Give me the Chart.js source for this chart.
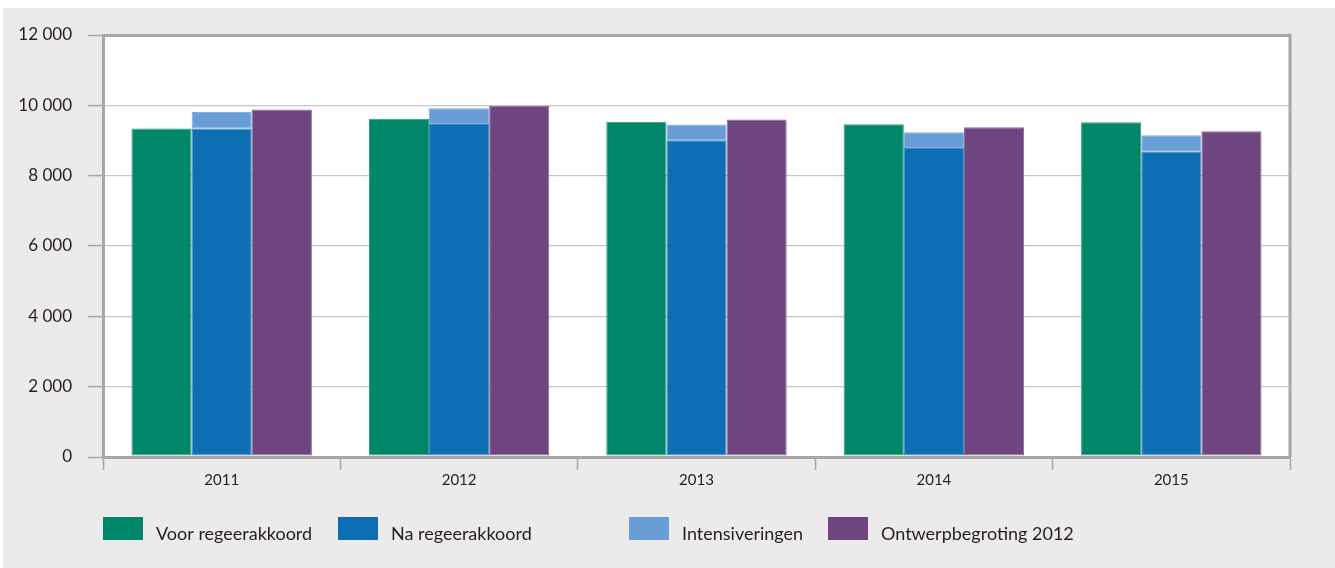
<!DOCTYPE html>
<html>
<head>
<meta charset="utf-8">
<script src="https://cdn.jsdelivr.net/npm/chart.js@4/dist/chart.umd.min.js"></script>
<style>
  html, body { margin: 0; padding: 0; background: #fff; }
  .panel { position: absolute; left: 3px; top: 8px; width: 1332px; height: 560px; background: #ECEAEB; }
  canvas { position: absolute; left: 0; top: 0; }
</style>
</head>
<body>
<div class="panel"></div>
<canvas id="myChart" width="1335" height="568"></canvas>
<script>
// data (bedragen x € mln)
const years = ["2011", "2012", "2013", "2014", "2015"];
const voorRegeerakkoord = [9340, 9620, 9530, 9460, 9520];
const naRegeerakkoord = [9340, 9470, 9010, 8790, 8680];
const intensiveringen = [470, 445, 445, 445, 470];
const ontwerpbegroting = [9880, 9990, 9600, 9380, 9260];
const yTicks = [0, 2000, 4000, 6000, 8000, 10000, 12000];

const textColor = "#231f20";
const axisGray = "#a7a7a7";

const formatNumber = (v) => String(v).replace(/\B(?=(\d{3})+(?!\d))/g, " ");

//white plot area + right border
const framePlugin = {
  id: "frame",
  beforeDraw(chart) {
    const { ctx, chartArea } = chart;
    ctx.save();
    ctx.fillStyle = "#ffffff";
    ctx.fillRect(chartArea.left, chartArea.top, chartArea.right - chartArea.left, chartArea.bottom - chartArea.top);
    ctx.restore();
  },
  afterDraw(chart) {
    const { ctx, chartArea } = chart;
    ctx.save();
    ctx.strokeStyle = axisGray;
    ctx.lineWidth = 3;
    ctx.beginPath();
    ctx.moveTo(chartArea.right, chartArea.top - 1.5);
    ctx.lineTo(chartArea.right, chartArea.bottom);
    ctx.stroke();
    ctx.restore();
  },
};

//legend in fixed columns like the original
const legendPlugin = {
  id: "colLegend",
  afterDraw(chart, args, opts) {
    const { ctx } = chart;
    ctx.save();
    ctx.font = opts.font;
    ctx.textBaseline = "alphabetic";
    ctx.textAlign = "left";
    chart.data.datasets.forEach((ds, i) => {
      const x = opts.columns[i];
      ctx.fillStyle = ds.backgroundColor;
      ctx.fillRect(x, opts.top, 40, 23);
      ctx.fillStyle = textColor;
      ctx.fillText(ds.label, x + 53, opts.top + 23);
    });
    ctx.restore();
  },
};

const myChart = new Chart(document.getElementById("myChart"), {
  type: "bar",
  data: {
    labels: years,
    datasets: [
      { label: "Voor regeerakkoord", data: voorRegeerakkoord, backgroundColor: "#00876A", borderColor: "#2f9a80", stack: "voor" },
      { label: "Na regeerakkoord", data: naRegeerakkoord, backgroundColor: "#0E6EB3", borderColor: "#3a88c0", stack: "na" },
      { label: "Intensiveringen", data: intensiveringen, backgroundColor: "#699DD6", borderColor: "#86b0de", stack: "na" },
      { label: "Ontwerpbegroting 2012", data: ontwerpbegroting, backgroundColor: "#6F4580", borderColor: "#8b6a99", stack: "ontwerp" },
    ].map((d) => ({ ...d, borderWidth: 1, borderSkipped: false })),
  },
  options: {
    responsive: false,
    devicePixelRatio: 1,
    animation: false,
    categoryPercentage: 0.76,
    barPercentage: 1,
    layout: { padding: { left: 0, top: 35, right: 45, bottom: 0 } },
    plugins: {
      legend: { display: false },
      tooltip: { enabled: false },
      colLegend: {
        font: "18px Lato, sans-serif",
        columns: [103, 338, 629, 828],
        top: 517,
      },
    },
    scales: {
      x: {
        stacked: true,
        afterFit: (scale) => { scale.height = 111; },
        border: { display: true, color: axisGray, width: 3 },
        grid: {
          offset: true,
          drawOnChartArea: false,
          drawTicks: true,
          tickLength: 13,
          tickColor: axisGray,
          tickWidth: 1.5,
        },
        ticks: {
          color: textColor,
          font: { family: "Lato, sans-serif", size: 15 },
          padding: 1,
        },
      },
      y: {
        stacked: true,
        min: 0,
        max: 12000,
        afterFit: (scale) => { scale.width = 103; },
        afterBuildTicks: (scale) => { scale.ticks = yTicks.map((v) => ({ value: v })); },
        border: { display: true, color: axisGray, width: 3 },
        grid: {
          color: (c) => (c.tick && (c.tick.value === 0 || c.tick.value === 12000) ? axisGray : "#c6c6c6"),
          lineWidth: (c) => (c.tick && (c.tick.value === 0 || c.tick.value === 12000) ? 3 : 1.2),
          tickLength: 15,
          tickColor: axisGray,
          tickWidth: 1.5,
        },
        ticks: {
          color: textColor,
          font: { family: "Lato, sans-serif", size: 17 },
          padding: 16,
          callback: (v) => formatNumber(v),
        },
      },
    },
  },
  plugins: [framePlugin, legendPlugin],
});
</script>
</body>
</html>
